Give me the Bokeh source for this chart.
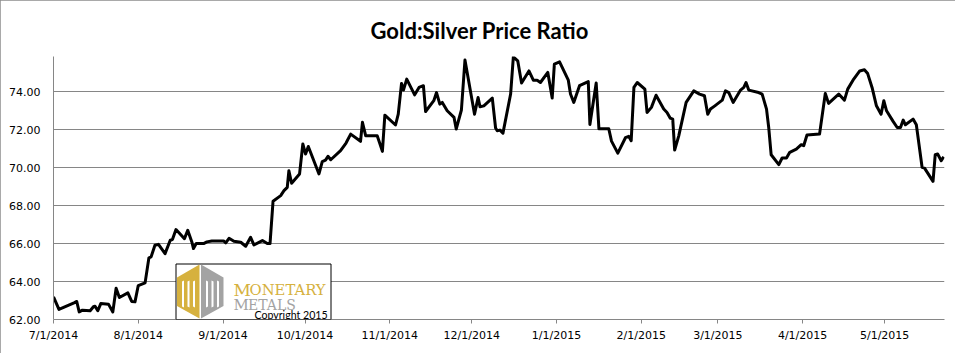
import pandas as pd
from bokeh.plotting import figure
from bokeh.models import (Range1d, FixedTicker, Label, BoxAnnotation, PolyAnnotation,
                          NumeralTickFormatter)
from bokeh.embed import file_html
from bokeh.resources import INLINE

# ---------------- data ----------------
start_date = "2014-07-01"
# days since 2014-07-01
day_offsets = [
    0, 2.0, 7.5, 8.5, 9.4, 10.6, 13.4, 14.6, 15.2, 16.2, 17.3, 20.1, 21.7, 22.9, 24.1,
    27.2, 28.6, 29.8, 31.0, 33.5, 34.9, 35.7, 37.1, 38.4, 40.8, 42.7, 43.5, 44.8, 47.9,
    49.1, 50.6, 51.2, 52.2, 54.9, 56.1, 57.9, 62.2, 63.0, 64.2, 66.0, 68.5, 70.3, 72.1,
    73.3, 76.4, 78.2, 79.2, 80.3, 83.1, 84.3, 85.5, 86.1, 87.1, 90.0, 91.2, 92.2, 93.2,
    97.1, 98.3, 99.5, 100.4, 101.4, 105.0, 107.0, 108.7, 112.3, 113.0, 114.2, 118.4,
    119.3, 120.3, 121.2, 125.1, 126.1, 127.3, 128.0, 129.2, 132.1, 133.7, 135.3, 136.1,
    139.1, 140.1, 141.3, 142.2, 144.0, 146.5, 147.3, 149.2, 150.5, 154.0, 155.3, 156.0,
    157.4, 160.5, 161.7, 162.3, 163.3, 164.4, 167.2, 168.2, 169.8, 171.2, 173.9, 175.5,
    176.9, 178.1, 180.8, 182.4, 183.2, 185.1, 188.3, 189.1, 190.3, 192.4, 195.6, 196.2,
    198.5, 199.5, 203.1, 204.1, 206.4, 209.2, 210.4, 211.3, 212.3, 213.5, 216.3, 217.1,
    218.7, 220.4, 223.2, 224.4, 225.6, 226.5, 227.2, 228.7, 231.4, 234.2, 236.3, 238.1,
    239.3, 240.3, 241.9, 244.6, 245.8, 247.0, 248.6, 251.3, 252.5, 253.3, 254.3, 257.9,
    259.2, 260.8, 261.6, 262.5, 265.3, 266.5, 268.1, 269.3, 271.7, 273.5, 274.4, 275.6,
    280.2, 282.3, 283.5, 287.2, 289.3, 290.5, 292.7, 294.9, 296.6, 297.8, 299.4, 301.0,
    302.7, 303.7, 304.7, 307.1, 308.6, 309.8, 310.8, 311.6, 314.4, 315.6, 317.7, 318.6,
    321.7, 322.5, 323.4, 324.7, 325.6,
]
ratio = [
    63.19, 62.53, 62.88, 62.95, 62.40, 62.49, 62.46, 62.67, 62.70, 62.46, 62.84, 62.81,
    62.40, 63.65, 63.16, 63.40, 62.95, 62.93, 63.79, 63.93, 65.25, 65.30, 65.91, 65.96,
    65.47, 66.18, 66.21, 66.74, 66.26, 66.70, 66.09, 65.74, 66.00, 66.00, 66.09, 66.14,
    66.14, 66.04, 66.28, 66.12, 66.07, 65.86, 66.33, 65.93, 66.16, 66.00, 66.00, 68.23,
    68.53, 68.79, 68.96, 69.84, 69.18, 69.67, 71.25, 70.72, 71.12, 69.67, 70.32, 70.40,
    70.60, 70.42, 70.90, 71.30, 71.77, 71.39, 72.39, 71.68, 71.68, 71.30, 70.86, 72.77,
    72.25, 72.82, 74.44, 74.09, 74.67, 73.84, 74.23, 74.32, 72.96, 73.53, 73.96, 73.35,
    73.44, 73.00, 72.65, 72.04, 73.04, 75.67, 72.82, 73.70, 73.21, 73.26, 73.67, 72.09,
    71.95, 71.98, 71.82, 73.88, 75.84, 75.63, 74.46, 75.10, 74.61, 74.61, 74.49, 75.02,
    73.67, 75.46, 75.58, 74.61, 73.88, 73.44, 74.32, 74.54, 72.28, 74.46, 72.05, 72.05,
    71.40, 70.77, 71.58, 71.65, 71.42, 74.23, 74.49, 74.14, 72.91, 73.18, 73.82, 73.09,
    72.91, 72.61, 72.56, 70.93, 71.68, 73.44, 74.05, 73.88, 73.79, 72.82, 73.09, 73.26,
    73.56, 74.05, 73.96, 73.44, 74.09, 74.23, 74.49, 74.09, 73.96, 73.88, 73.09, 72.12,
    70.68, 70.16, 70.51, 70.51, 70.81, 70.98, 71.21, 71.16, 71.72, 71.77, 73.91, 73.39,
    73.88, 73.56, 74.14, 74.67, 75.10, 75.16, 74.96, 74.23, 73.26, 72.82, 73.53, 73.00,
    72.44, 72.12, 72.12, 72.51, 72.26, 72.56, 72.26, 70.02, 69.98, 69.28, 70.68, 70.72,
    70.37, 70.58,
]
x_tick_dates = ["2014-07-01", "2014-08-01", "2014-09-01", "2014-10-01", "2014-11-01",
                "2014-12-01", "2015-01-01", "2015-02-01", "2015-03-01", "2015-04-01",
                "2015-05-01"]
x_tick_labels = ["7/1/2014", "8/1/2014", "9/1/2014", "10/1/2014", "11/1/2014",
                 "12/1/2014", "1/1/2015", "2/1/2015", "3/1/2015", "4/1/2015", "5/1/2015"]
y_ticks = [62, 64, 66, 68, 70, 72, 74]
title_text = "Gold:Silver Price Ratio"

# ---------------- layout ----------------
W, H = 955, 353
FL, FR, FT, FB = 53, 944, 56, 319        # frame edges (page pixels)
X_END_DAYS = 325.9
Y_MIN, Y_MAX = 62, 75.86

start = pd.Timestamp(start_date)
xs = [start + pd.Timedelta(days=d) for d in day_offsets]

p = figure(width=W, height=H, x_axis_type="datetime", output_backend="svg",
           toolbar_location=None,
           x_range=Range1d(start, start + pd.Timedelta(days=X_END_DAYS)),
           y_range=Range1d(Y_MIN, Y_MAX),
           min_border_left=FL, min_border_right=W - FR,
           min_border_top=FT, min_border_bottom=H - FB)
p.styles = {"outline": "1px solid #8c8c8c", "outline-offset": "-1px"}
p.outline_line_color = None
p.background_fill_color = "white"
p.border_fill_color = "white"

# title
p.title.text = title_text
p.title.align = "left"
p.title.offset = 370 - FL
p.title.standoff = 26
p.title.text_font = "Lato"
p.title.text_font_style = "bold"
p.title.text_font_size = "22px"
p.title.text_color = "black"

GRID = "#868686"
TICK_FONT = "DejaVu Sans"

# y axis
p.yaxis.ticker = FixedTicker(ticks=y_ticks)
p.yaxis.formatter = NumeralTickFormatter(format="0.00")
p.yaxis.axis_line_color = GRID
p.yaxis.major_tick_out = 0
p.yaxis.major_tick_in = 0
p.yaxis.minor_tick_line_color = None
p.yaxis.major_label_standoff = 13
p.yaxis.major_label_text_font = TICK_FONT
p.yaxis.major_label_text_font_size = "11px"
p.yaxis.major_label_text_color = "#000000"
p.ygrid.ticker = FixedTicker(ticks=y_ticks)
p.ygrid.grid_line_color = GRID
p.ygrid.grid_line_width = 1
p.xgrid.visible = False

# x axis
tick_ms = [int(pd.Timestamp(d).timestamp() * 1000) for d in x_tick_dates]
p.xaxis.ticker = FixedTicker(ticks=tick_ms)
p.xaxis.major_label_overrides = {t: lab for t, lab in zip(tick_ms, x_tick_labels)}
p.xaxis.axis_line_color = GRID
p.xaxis.major_tick_line_color = GRID
p.xaxis.major_tick_out = 4
p.xaxis.major_tick_in = 0
p.xaxis.minor_tick_line_color = None
p.xaxis.major_label_standoff = 5
p.xaxis.major_label_text_font = TICK_FONT
p.xaxis.major_label_text_font_size = "11px"
p.xaxis.major_label_text_color = "#000000"

# data line
p.line(xs, ratio, line_color="black", line_width=3, line_join="round")

# helpers: page pixel -> screen units (relative to frame bottom-left)
def fx(px):
    return px - FL

def fy(py):
    return FB - py

# logo box
GOLD = "#D6B13E"
GRAYL = "#A3A3A3"
p.add_layout(BoxAnnotation(left=fx(175.5), right=fx(330.5), top=fy(263.5), bottom=fy(319),
                           left_units="screen", right_units="screen",
                           top_units="screen", bottom_units="screen",
                           fill_color="white", fill_alpha=1, line_color="black",
                           line_width=1, line_alpha=1))

def poly(pts, color):
    p.add_layout(PolyAnnotation(xs=[fx(a) for a, b in pts], ys=[fy(b) for a, b in pts],
                                xs_units="screen", ys_units="screen",
                                fill_color=color, fill_alpha=1, line_color=None))

poly([(199, 264), (176.5, 277), (176.5, 305.5), (199, 318)], GOLD)
poly([(200.5, 264), (223, 277), (223, 305.5), (200.5, 318)], GRAYL)
# inner white cut-outs forming the "M" shapes
for x0 in (181.5, 187.0, 192.5):
    poly([(x0, 281), (x0 + 2, 280), (x0 + 2, 307), (x0, 306)], "white")
for x0 in (205.5, 211.0, 216.5):
    poly([(x0, 280), (x0 + 2, 281), (x0 + 2, 306), (x0, 307)], "white")

def label(px, py, text, size, color, font="DejaVu Serif", style="normal"):
    p.add_layout(Label(x=fx(px), y=fy(py), x_units="screen", y_units="screen",
                       text=text, text_align="left", text_baseline="alphabetic",
                       text_font=font, text_font_size=size, text_color=color,
                       text_font_style=style))

label(233, 289, "M", "17px", GOLD)
label(249, 289, "ONETARY", "14.8px", GOLD)
label(233, 304, "M", "15px", GRAYL)
label(247.5, 304, "ETALS", "14px", GRAYL)
label(254, 314.5, "Copyright 2015", "10.6px", "black", "Lato")

open("out.html", "w").write(file_html(p, INLINE))
